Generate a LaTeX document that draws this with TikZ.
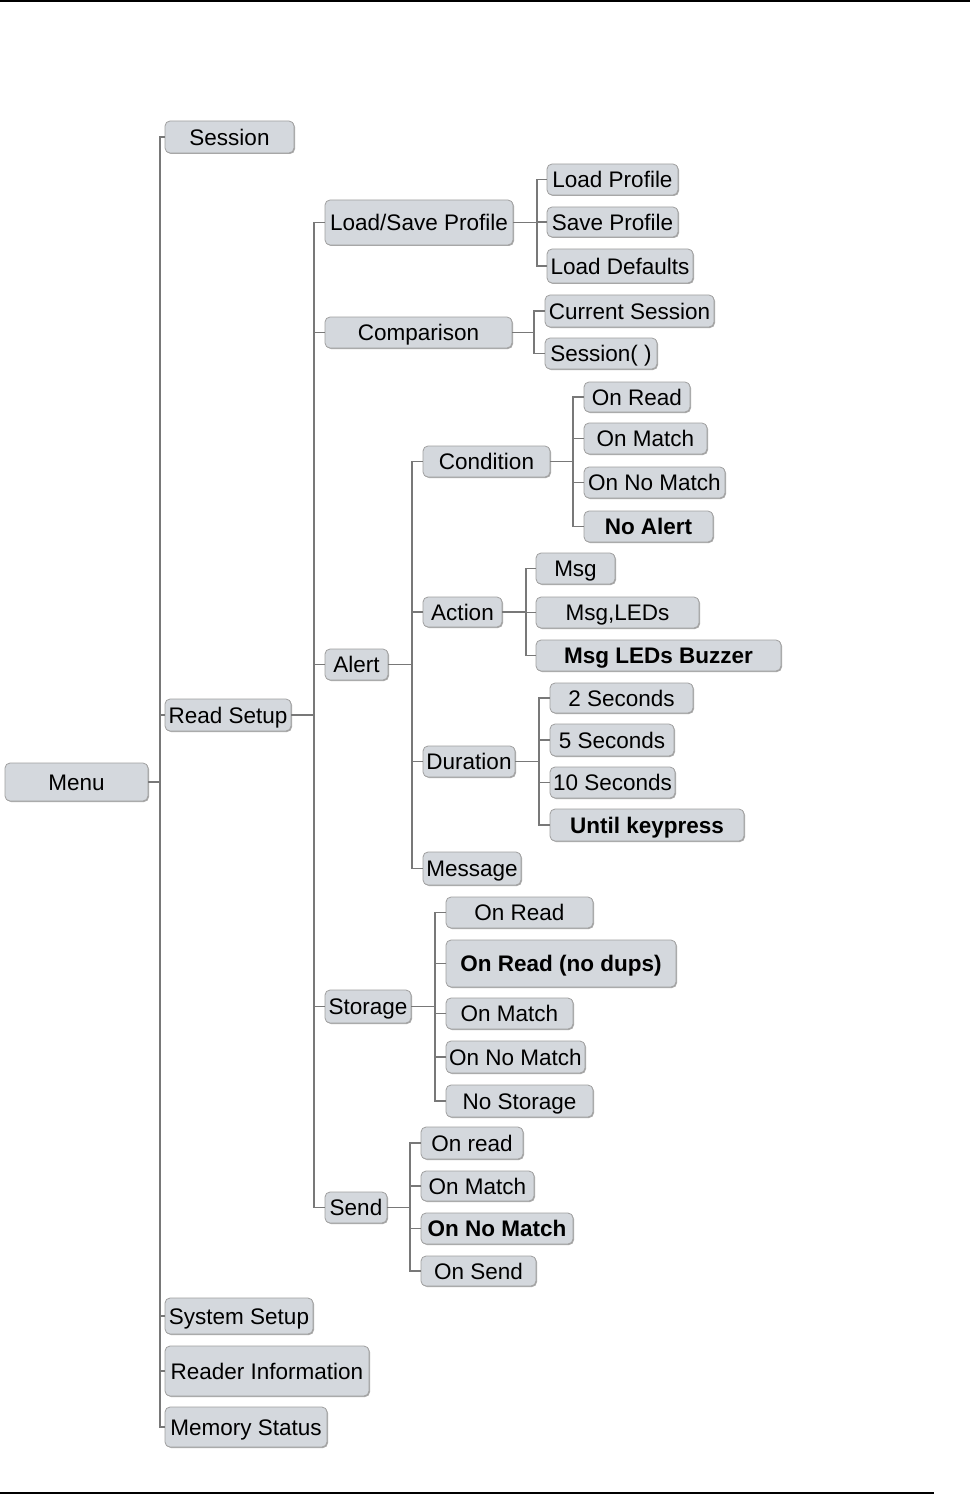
\documentclass[tikz,border=0pt]{standalone}
\usepackage{fontspec}
\setmainfont{Liberation Sans}
\usetikzlibrary{shadows}
\definecolor{boxfill}{RGB}{212,216,221}
\definecolor{boxline}{RGB}{160,160,160}
\definecolor{lineclr}{RGB}{120,120,120}
\definecolor{shadowc}{RGB}{150,150,150}
\tikzset{
  mbox/.style={draw=boxline, line width=0.8pt, fill=boxfill, rounded corners=5pt, inner sep=0pt,
    text height=16.1pt, text depth=0pt, font=\fontsize{22.5}{27}\selectfont,
    drop shadow={shadow xshift=1pt, shadow yshift=-1pt, fill=shadowc, opacity=0.8}},
  bbox/.style={mbox, font=\fontsize{22.5}{27}\selectfont\bfseries},
  conn/.style={draw=lineclr, line width=1.3pt},
  rule/.style={draw=black, line width=2pt},
}
\begin{document}
\begin{tikzpicture}[x=1pt, y=-1pt]
\useasboundingbox (0,0) rectangle (970,1495);
\draw[rule] (0,1) -- (970,1);
\draw[rule] (0,1493) -- (934,1493);

% level 0 / 1
\node[mbox, minimum width=143pt, minimum height=38pt] (menu) at (76.5,782) {Menu};
\node[mbox, minimum width=129pt, minimum height=32pt] (session) at (229.5,137) {Session};
\node[mbox, minimum width=126pt, minimum height=32pt] (readsetup) at (228,715) {Read Setup};
\node[mbox, minimum width=148pt, minimum height=36pt] (syssetup) at (239,1316) {System Setup};
\node[mbox, minimum width=204pt, minimum height=50pt] (readerinfo) at (267,1371) {Reader Information};
\node[mbox, minimum width=162pt, minimum height=40pt] (memstatus) at (246,1427) {Memory Status};

% level 2
\node[mbox, minimum width=188pt, minimum height=45pt] (lsp) at (419,222.5) {Load/Save Profile};
\node[mbox, minimum width=187pt, minimum height=31pt] (comparison) at (418.5,332.5) {Comparison};
\node[mbox, minimum width=63pt, minimum height=31pt] (alert) at (356.5,664.5) {Alert};
\node[mbox, minimum width=86pt, minimum height=33pt] (storage) at (368,1006.5) {Storage};
\node[mbox, minimum width=62pt, minimum height=31pt] (send) at (356,1207.5) {Send};

% load/save profile
\node[mbox, minimum width=131pt, minimum height=31pt] (loadprof) at (612.5,179.5) {Load Profile};
\node[mbox, minimum width=131pt, minimum height=30pt] (saveprof) at (612.5,222) {Save Profile};
\node[mbox, minimum width=146pt, minimum height=34pt] (loaddef) at (620,266) {Load Defaults};

% comparison
\node[mbox, minimum width=169pt, minimum height=32pt] (cursess) at (629.5,311) {Current Session};
\node[mbox, minimum width=112pt, minimum height=31pt] (sessp) at (601,353.5) {Session( )};

% alert
\node[mbox, minimum width=127pt, minimum height=31pt] (condition) at (486.5,461.5) {Condition};
\node[mbox, minimum width=79pt, minimum height=30pt] (action) at (462.5,612) {Action};
\node[mbox, minimum width=92pt, minimum height=31pt] (duration) at (469,761.5) {Duration};
\node[mbox, minimum width=98pt, minimum height=33pt] (message) at (472,868.5) {Message};

% condition
\node[mbox, minimum width=106pt, minimum height=30pt] (condread) at (637,397) {On Read};
\node[mbox, minimum width=123pt, minimum height=31pt] (condmatch) at (645.5,438.5) {On Match};
\node[mbox, minimum width=141pt, minimum height=31pt] (condnomatch) at (654.5,482.5) {On No Match};
\node[bbox, minimum width=129pt, minimum height=31pt] (noalert) at (648.5,526.5) {No Alert};

% action
\node[mbox, minimum width=79pt, minimum height=31pt] (msg) at (575.5,568.5) {Msg};
\node[mbox, minimum width=163pt, minimum height=31pt] (msgleds) at (617.5,612.5) {Msg,LEDs};
\node[bbox, minimum width=245pt, minimum height=31pt] (msgbuzz) at (658.5,655.5) {Msg LEDs Buzzer};

% duration
\node[mbox, minimum width=143pt, minimum height=30pt] (sectwo) at (621.5,698) {2 Seconds};
\node[mbox, minimum width=124pt, minimum height=32pt] (secfive) at (612,740) {5 Seconds};
\node[mbox, minimum width=125pt, minimum height=31pt] (secten) at (612.5,782.5) {10 Seconds};
\node[bbox, minimum width=194pt, minimum height=32pt] (untilkey) at (647,825) {Until keypress};

% storage
\node[mbox, minimum width=147pt, minimum height=31pt] (stread) at (519.5,912.5) {On Read};
\node[bbox, minimum width=230pt, minimum height=47pt] (stnodups) at (561,963.5) {On Read (no dups)};
\node[mbox, minimum width=127pt, minimum height=31pt] (stmatch) at (509.5,1013.5) {On Match};
\node[mbox, minimum width=139pt, minimum height=32pt] (stnomatch) at (515.5,1057) {On No Match};
\node[mbox, minimum width=147pt, minimum height=32pt] (stnone) at (519.5,1101) {No Storage};

% send
\node[mbox, minimum width=102pt, minimum height=32pt] (seread) at (472,1143) {On read};
\node[mbox, minimum width=113pt, minimum height=30pt] (sematch) at (477.5,1186) {On Match};
\node[bbox, minimum width=152pt, minimum height=31pt] (senomatch) at (497,1228.5) {On No Match};
\node[mbox, minimum width=115pt, minimum height=30pt] (sesend) at (478.5,1271) {On Send};

% connectors
\coordinate (menuT) at (160,782);
\draw[conn] (menu.east) -- (menuT);
\foreach \n in {session,readsetup,syssetup,readerinfo,memstatus} \draw[conn] (menuT) |- (\n.west);

\coordinate (rsT) at (314,715);
\draw[conn] (readsetup.east) -- (rsT);
\foreach \n in {lsp,comparison,alert,storage,send} \draw[conn] (rsT) |- (\n.west);

\coordinate (lspT) at (537,222.5);
\draw[conn] (lsp.east) -- (lspT);
\foreach \n in {loadprof,saveprof,loaddef} \draw[conn] (lspT) |- (\n.west);

\coordinate (cmpT) at (534,332.5);
\draw[conn] (comparison.east) -- (cmpT);
\foreach \n in {cursess,sessp} \draw[conn] (cmpT) |- (\n.west);

\coordinate (alT) at (412,664.5);
\draw[conn] (alert.east) -- (alT);
\foreach \n in {condition,action,duration,message} \draw[conn] (alT) |- (\n.west);

\coordinate (cdT) at (573,461.5);
\draw[conn] (condition.east) -- (cdT);
\foreach \n in {condread,condmatch,condnomatch,noalert} \draw[conn] (cdT) |- (\n.west);

\coordinate (acT) at (526,612);
\draw[conn] (action.east) -- (acT);
\foreach \n in {msg,msgleds,msgbuzz} \draw[conn] (acT) |- (\n.west);

\coordinate (duT) at (539,761.5);
\draw[conn] (duration.east) -- (duT);
\foreach \n in {sectwo,secfive,secten,untilkey} \draw[conn] (duT) |- (\n.west);

\coordinate (stT) at (435,1006.5);
\draw[conn] (storage.east) -- (stT);
\foreach \n in {stread,stnodups,stmatch,stnomatch,stnone} \draw[conn] (stT) |- (\n.west);

\coordinate (seT) at (410,1207.5);
\draw[conn] (send.east) -- (seT);
\foreach \n in {seread,sematch,senomatch,sesend} \draw[conn] (seT) |- (\n.west);
\end{tikzpicture}
\end{document}
